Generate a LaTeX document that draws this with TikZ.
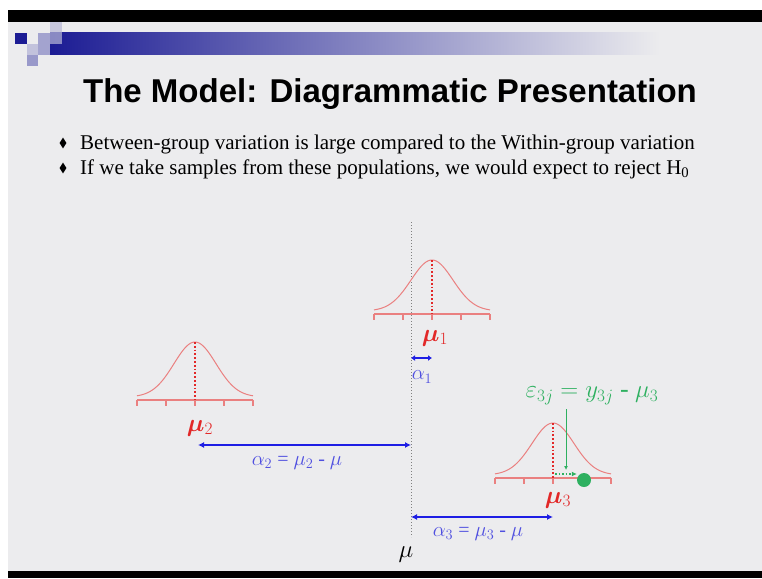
\documentclass[tikz,border=0pt]{standalone}
\usepackage{bm}
\usepackage{fontspec}
\setmainfont{Liberation Serif}
\newfontfamily\titlefont{Liberation Sans}
\usetikzlibrary{arrows.meta,positioning,shapes.geometric}
\definecolor{SlideBg}{RGB}{236,236,238}
\definecolor{SlideNavy}{RGB}{28,28,148}
\definecolor{CurveRed}{RGB}{234,128,128}
\definecolor{MeanRed}{RGB}{226,40,40}
\definecolor{ShiftBlue}{RGB}{30,30,228}
\definecolor{ShiftText}{RGB}{80,80,224}
\definecolor{ErrGreen}{RGB}{46,176,96}

\begin{document}
\begin{tikzpicture}[x=1pt,y=-1pt,
  curve/.style={CurveRed,line width=1pt},
  axisline/.style={CurveRed,line width=1.3pt},
  meanline/.style={MeanRed,line width=1.8pt,dotted},
  mulabel/.style={text=MeanRed,font=\fontsize{26}{26}\selectfont},
  shiftarrow/.style={ShiftBlue,line width=1.8pt,{Latex[length=6pt,width=6pt]}-{Latex[length=6pt,width=6pt]}},
  shiftlabel/.style={text=ShiftText,font=\fontsize{20}{20}\selectfont},
  bulletmark/.style={diamond,fill=black,inner sep=0pt,minimum width=7pt,minimum height=11pt},
  bullettext/.style={anchor=base west,inner sep=0pt,font=\fontsize{21}{21}\selectfont}]
\useasboundingbox (0,0) rectangle (762,578);
% slide frame
\fill[white] (0,0) rectangle (762,578);
\fill[SlideBg] (8,22) rectangle (762,571);
\fill[black] (8,10) rectangle (762,22);
\fill[black] (8,571) rectangle (762,578);
\shade[left color=SlideNavy,right color=SlideBg] (50,33) rectangle (660,55);
\fill[SlideNavy] (15,33) rectangle (27,44);
\fill[SlideNavy!20!SlideBg] (27,44) rectangle (38,55);
\fill[SlideNavy!40!SlideBg] (27,55) rectangle (38,66);
\fill[SlideNavy!35!SlideBg] (38,33) rectangle (50,55);
\fill[SlideNavy!25!SlideBg,opacity=0.7] (50,22) rectangle (62,44);
% title and bullets
\node[anchor=base,inner sep=0pt] (title) at (390,102)
   {\titlefont\bfseries\fontsize{33}{33}\selectfont The Model: Diagrammatic Presentation};
\node[bullettext] (b1) at (80,149) {Between-group variation is large compared to the Within-group variation};
\node[bullettext] (b2) at (80,174) {If we take samples from these populations, we would expect to reject H\textsubscript{0}};
\node[bulletmark] (d1) at (63,143) {};
\node[bulletmark] (d2) at (63,168) {};
% grand mean
\coordinate (mutop) at (411,222);
\coordinate (mubot) at (411,537);
\draw[gray,dotted,line width=1pt] (mutop) -- (mubot);
\node[font=\fontsize{30}{30}\selectfont] (mu) at (406,555) {$\mu$};
% the three populations
\foreach \c/\a/\p/\n in {432/314/260/1,195/400/342/2,553/478/423/3} {
   \draw[curve] plot[domain=-58:58,samples=70,smooth] ({\c+\x},{\a-3-(\a-3-\p)*exp(-(\x/21)^2/2)});
   \draw[axisline] (\c-58,\a) -- (\c+58,\a);
   \foreach \t in {-58,-29,0,29,58} {
      \draw[axisline] (\c+\t,\a) -- (\c+\t,\a+6);
   }
   \coordinate (top\n) at (\c,\p);
   \coordinate (mid\n) at (\c,\a);
   \draw[meanline] (top\n) -- (mid\n);
}
\node[mulabel] (mu1) at (435,338) {$\bm{\mu}_1$};
\node[mulabel] (mu2) at (200,428) {$\bm{\mu}_2$};
\node[mulabel] (mu3) at (558,500) {$\bm{\mu}_3$};
% treatment effects
\coordinate (a1l) at (411,358);
\coordinate (a1r) at (432,358);
\coordinate (a2l) at (198,445);
\coordinate (a2r) at (411,445);
\coordinate (a3l) at (411,517);
\coordinate (a3r) at (553,517);
\draw[shiftarrow,{Latex[length=4pt,width=6pt]}-{Latex[length=4pt,width=6pt]}] (a1l) -- (a1r);
\draw[shiftarrow] (a2l) -- (a2r);
\draw[shiftarrow] (a3l) -- (a3r);
\node[shiftlabel] (al1) at (422,377) {$\alpha_1$};
\node[shiftlabel] (al2) at (297,463) {$\alpha_2$ = $\mu_2$ - $\mu$};
\node[shiftlabel] (al3) at (478,534) {$\alpha_3$ = $\mu_3$ - $\mu$};
% error term
\node[text=ErrGreen,font=\fontsize{26}{26}\selectfont] (eps) at (592,396) {$\varepsilon_{3j} = y_{3j}$ - $\mu_3$};
\node[circle,fill=ErrGreen,minimum size=14pt,inner sep=0pt] (y3j) at (584,480) {};
\coordinate (errtop) at (566,409);
\coordinate (errbot) at (566,470);
\draw[ErrGreen,line width=0.8pt,-{Latex[length=4pt,width=4pt]}] (errtop) -- (errbot);
\coordinate (e3a) at (555,474);
\draw[ErrGreen,line width=1.5pt,dotted,-{Latex[length=5pt,width=5pt]}] (e3a) -- (e3a -| y3j.west);
\end{tikzpicture}
\end{document}
